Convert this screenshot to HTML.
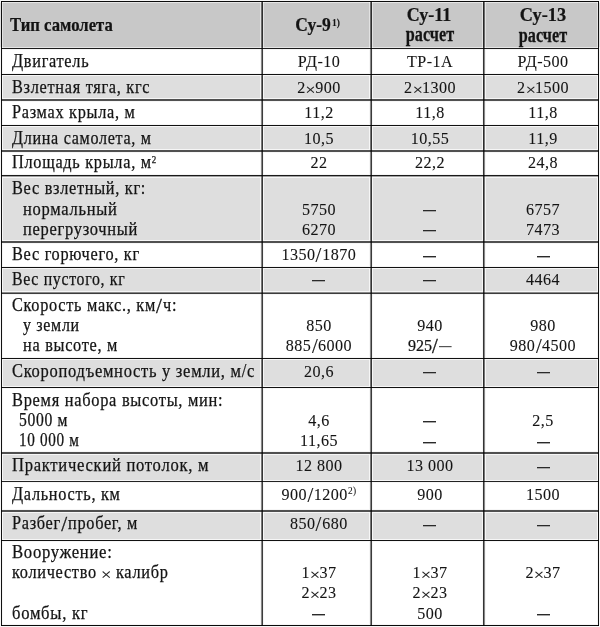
<!DOCTYPE html>
<html><head><meta charset="utf-8"><style>
html,body{margin:0;padding:0;background:#fff;}
body{width:600px;height:627px;position:relative;overflow:hidden;font-family:"Liberation Serif",serif;color:#141414;}
.r{position:absolute;}
.m{mix-blend-mode:multiply;}
.t{position:absolute;line-height:0;white-space:nowrap;-webkit-text-stroke:0.25px #141414;}
.c{width:300px;text-align:center;}
sup{font-size:0.55em;vertical-align:baseline;position:relative;top:-0.55em;line-height:0;}
sup.b{font-weight:bold;}
sup.n{font-size:0.58em;top:-0.62em;margin-left:0.3px;}
.xw{display:inline-block;position:relative;width:10.5px;height:0;}
.x{position:absolute;left:1px;bottom:0;}
.sl{display:inline-block;transform:scale(1.3,1.18);transform-origin:50% -0.35em;margin:0 1px;}
.em{display:inline-block;width:14.5px;height:1.5px;background:#2a2a2a;vertical-align:4px;margin-left:0.5px;}
</style></head><body>
<div class="r" style="left:2px;top:2px;width:596px;height:46px;background:#c8c8c8"></div>
<div class="r" style="left:2px;top:75px;width:596px;height:24px;background:#dedede"></div>
<div class="r" style="left:2px;top:126px;width:596px;height:24px;background:#dedede"></div>
<div class="r" style="left:2px;top:177px;width:596px;height:64px;background:#dedede"></div>
<div class="r" style="left:2px;top:268px;width:596px;height:24px;background:#dedede"></div>
<div class="r" style="left:2px;top:359px;width:596px;height:28px;background:#dedede"></div>
<div class="r" style="left:2px;top:454px;width:596px;height:27px;background:#dedede"></div>
<div class="r" style="left:2px;top:512px;width:596px;height:28px;background:#dedede"></div>
<div class="r" style="left:0px;top:0px;width:600px;height:1px;background:#f6f6f6"></div>
<div class="r" style="left:0px;top:2px;width:600px;height:1px;background:#e6e6e6"></div>
<div class="r" style="left:0px;top:47px;width:600px;height:1px;background:#e6e6e6"></div>
<div class="r" style="left:0px;top:49px;width:600px;height:1px;background:#f6f6f6"></div>
<div class="r" style="left:0px;top:73px;width:600px;height:1px;background:#f6f6f6"></div>
<div class="r" style="left:0px;top:75px;width:600px;height:1px;background:#f6f6f6"></div>
<div class="r" style="left:0px;top:98px;width:600px;height:1px;background:#f6f6f6"></div>
<div class="r" style="left:0px;top:101px;width:600px;height:1px;background:#f6f6f6"></div>
<div class="r" style="left:0px;top:124px;width:600px;height:1px;background:#f6f6f6"></div>
<div class="r" style="left:0px;top:126px;width:600px;height:1px;background:#f6f6f6"></div>
<div class="r" style="left:0px;top:149px;width:600px;height:1px;background:#f6f6f6"></div>
<div class="r" style="left:0px;top:152px;width:600px;height:1px;background:#f6f6f6"></div>
<div class="r" style="left:0px;top:174px;width:600px;height:1px;background:#f6f6f6"></div>
<div class="r" style="left:0px;top:177px;width:600px;height:1px;background:#f6f6f6"></div>
<div class="r" style="left:0px;top:240px;width:600px;height:1px;background:#f6f6f6"></div>
<div class="r" style="left:0px;top:243px;width:600px;height:1px;background:#f6f6f6"></div>
<div class="r" style="left:0px;top:266px;width:600px;height:1px;background:#f6f6f6"></div>
<div class="r" style="left:0px;top:268px;width:600px;height:1px;background:#f6f6f6"></div>
<div class="r" style="left:0px;top:291px;width:600px;height:1px;background:#f6f6f6"></div>
<div class="r" style="left:0px;top:294px;width:600px;height:1px;background:#f6f6f6"></div>
<div class="r" style="left:0px;top:357px;width:600px;height:1px;background:#f6f6f6"></div>
<div class="r" style="left:0px;top:359px;width:600px;height:1px;background:#f6f6f6"></div>
<div class="r" style="left:0px;top:386px;width:600px;height:1px;background:#f6f6f6"></div>
<div class="r" style="left:0px;top:388px;width:600px;height:1px;background:#f6f6f6"></div>
<div class="r" style="left:0px;top:451px;width:600px;height:1px;background:#f6f6f6"></div>
<div class="r" style="left:0px;top:454px;width:600px;height:1px;background:#f6f6f6"></div>
<div class="r" style="left:0px;top:480px;width:600px;height:1px;background:#f6f6f6"></div>
<div class="r" style="left:0px;top:482px;width:600px;height:1px;background:#f6f6f6"></div>
<div class="r" style="left:0px;top:509px;width:600px;height:1px;background:#f6f6f6"></div>
<div class="r" style="left:0px;top:512px;width:600px;height:1px;background:#f6f6f6"></div>
<div class="r" style="left:0px;top:539px;width:600px;height:1px;background:#f6f6f6"></div>
<div class="r" style="left:0px;top:541px;width:600px;height:1px;background:#f6f6f6"></div>
<div class="r" style="left:0px;top:624px;width:600px;height:1px;background:#f6f6f6"></div>
<div class="r" style="left:0px;top:626px;width:600px;height:1px;background:#f6f6f6"></div>
<div class="r" style="left:0px;top:0px;width:1px;height:627px;background:#f6f6f6"></div>
<div class="r" style="left:2px;top:0px;width:1px;height:627px;background:#f6f6f6"></div>
<div class="r" style="left:0px;top:3px;width:1px;height:44px;background:#e2e2e2"></div>
<div class="r" style="left:2px;top:3px;width:1px;height:44px;background:#e2e2e2"></div>
<div class="r" style="left:260px;top:0px;width:1px;height:627px;background:#f6f6f6"></div>
<div class="r" style="left:263px;top:0px;width:1px;height:627px;background:#f6f6f6"></div>
<div class="r" style="left:260px;top:3px;width:1px;height:44px;background:#e2e2e2"></div>
<div class="r" style="left:263px;top:3px;width:1px;height:44px;background:#e2e2e2"></div>
<div class="r" style="left:369px;top:0px;width:1px;height:627px;background:#f6f6f6"></div>
<div class="r" style="left:372px;top:0px;width:1px;height:627px;background:#f6f6f6"></div>
<div class="r" style="left:369px;top:3px;width:1px;height:44px;background:#e2e2e2"></div>
<div class="r" style="left:372px;top:3px;width:1px;height:44px;background:#e2e2e2"></div>
<div class="r" style="left:482px;top:0px;width:1px;height:627px;background:#f6f6f6"></div>
<div class="r" style="left:485px;top:0px;width:1px;height:627px;background:#f6f6f6"></div>
<div class="r" style="left:482px;top:3px;width:1px;height:44px;background:#e2e2e2"></div>
<div class="r" style="left:485px;top:3px;width:1px;height:44px;background:#e2e2e2"></div>
<div class="r" style="left:597px;top:0px;width:1px;height:627px;background:#f6f6f6"></div>
<div class="r" style="left:599px;top:0px;width:1px;height:627px;background:#f6f6f6"></div>
<div class="r" style="left:597px;top:3px;width:1px;height:44px;background:#e2e2e2"></div>
<div class="r" style="left:599px;top:3px;width:1px;height:44px;background:#e2e2e2"></div>
<div class="r" style="left:1px;top:1px;width:598px;height:1px;background:#0c0c0c"></div>
<div class="r" style="left:1px;top:48px;width:598px;height:1px;background:#1c1c1c"></div>
<div class="r" style="left:1px;top:74px;width:598px;height:1px;background:#111"></div>
<div class="r" style="left:1px;top:99px;width:598px;height:1px;background:#505050"></div>
<div class="r" style="left:1px;top:100px;width:598px;height:1px;background:#505050"></div>
<div class="r" style="left:1px;top:125px;width:598px;height:1px;background:#111"></div>
<div class="r" style="left:1px;top:150px;width:598px;height:1px;background:#505050"></div>
<div class="r" style="left:1px;top:151px;width:598px;height:1px;background:#505050"></div>
<div class="r" style="left:1px;top:175px;width:598px;height:1px;background:#1a1a1a"></div>
<div class="r" style="left:1px;top:176px;width:598px;height:1px;background:#a0a0a0"></div>
<div class="r" style="left:1px;top:241px;width:598px;height:1px;background:#505050"></div>
<div class="r" style="left:1px;top:242px;width:598px;height:1px;background:#505050"></div>
<div class="r" style="left:1px;top:267px;width:598px;height:1px;background:#111"></div>
<div class="r" style="left:1px;top:292px;width:598px;height:1px;background:#888"></div>
<div class="r" style="left:1px;top:293px;width:598px;height:1px;background:#3c3c3c"></div>
<div class="r" style="left:1px;top:358px;width:598px;height:1px;background:#111"></div>
<div class="r" style="left:1px;top:387px;width:598px;height:1px;background:#111"></div>
<div class="r" style="left:1px;top:452px;width:598px;height:1px;background:#505050"></div>
<div class="r" style="left:1px;top:453px;width:598px;height:1px;background:#505050"></div>
<div class="r" style="left:1px;top:481px;width:598px;height:1px;background:#222"></div>
<div class="r" style="left:1px;top:510px;width:598px;height:1px;background:#505050"></div>
<div class="r" style="left:1px;top:511px;width:598px;height:1px;background:#505050"></div>
<div class="r" style="left:1px;top:540px;width:598px;height:1px;background:#111"></div>
<div class="r" style="left:1px;top:625px;width:598px;height:1px;background:#0a0a0a"></div>
<div class="r m" style="left:1px;top:1px;width:1px;height:625px;background:#111"></div>
<div class="r m" style="left:261px;top:1px;width:1px;height:625px;background:#888"></div>
<div class="r m" style="left:262px;top:1px;width:1px;height:625px;background:#3c3c3c"></div>
<div class="r m" style="left:370px;top:1px;width:1px;height:625px;background:#888"></div>
<div class="r m" style="left:371px;top:1px;width:1px;height:625px;background:#3a3a3a"></div>
<div class="r m" style="left:483px;top:1px;width:1px;height:625px;background:#333"></div>
<div class="r m" style="left:484px;top:1px;width:1px;height:625px;background:#888"></div>
<div class="r m" style="left:598px;top:1px;width:1px;height:625px;background:#111"></div>
<div class="t" style="left:10.30px;top:24.45px;font-size:20px;font-weight:bold;transform:scale(0.834,0.95);transform-origin:0 6.75px;">Тип самолета</div>
<div class="t c" style="left:163.20px;top:23.85px;font-size:20px;font-weight:bold;transform:scale(0.875,0.95);transform-origin:150px 6.75px;">Су-9</div>
<div class="t c" style="left:186.00px;top:22.99px;font-size:9.5px;font-weight:bold;transform:scale(1.0,1.0);transform-origin:150px 3.21px;-webkit-text-stroke:0.1px">1)</div>
<div class="t c" style="left:278.50px;top:14.05px;font-size:20px;font-weight:bold;transform:scale(0.9,0.91);transform-origin:150px 6.75px;">Су-11</div>
<div class="t c" style="left:279.75px;top:34.45px;font-size:20px;font-weight:bold;transform:scale(0.81,1.02);transform-origin:150px 6.75px;">расчет</div>
<div class="t c" style="left:393.10px;top:14.25px;font-size:20px;font-weight:bold;transform:scale(0.915,0.91);transform-origin:150px 6.75px;">Су-13</div>
<div class="t c" style="left:393.30px;top:34.65px;font-size:20px;font-weight:bold;transform:scale(0.81,1.02);transform-origin:150px 6.75px;">расчет</div>
<div class="t" style="left:11.60px;top:60.66px;font-size:17.9px;font-weight:normal;transform:scale(0.91,1.0);transform-origin:0 6.04px;letter-spacing:0.78px">Двигатель</div>
<div class="t c" style="left:168.50px;top:60.66px;font-size:17.9px;font-weight:normal;transform:scale(0.9,0.96);transform-origin:150px 6.04px;letter-spacing:0.5px;-webkit-text-stroke:0.1px #141414">РД-10</div>
<div class="t c" style="left:279.60px;top:60.66px;font-size:17.9px;font-weight:normal;transform:scale(0.9,0.96);transform-origin:150px 6.04px;letter-spacing:0.5px;-webkit-text-stroke:0.1px #141414">ТР-1А</div>
<div class="t c" style="left:393.40px;top:60.66px;font-size:17.9px;font-weight:normal;transform:scale(0.9,0.96);transform-origin:150px 6.04px;letter-spacing:0.5px;-webkit-text-stroke:0.1px #141414">РД-500</div>
<div class="t" style="left:11.60px;top:86.56px;font-size:17.9px;font-weight:normal;transform:scale(0.91,1.0);transform-origin:0 6.04px;letter-spacing:0.78px">Взлетная тяга, кгс</div>
<div class="t c" style="left:168.50px;top:86.56px;font-size:17.9px;font-weight:normal;transform:scale(0.9,0.96);transform-origin:150px 6.04px;letter-spacing:0.5px;-webkit-text-stroke:0.1px #141414">2<span class="xw"><svg class="x" width="9" height="7.2" viewBox="0 0 9 7.2"><path d="M0.6 0.5L8.4 6.7M8.4 0.5L0.6 6.7" stroke="#2a2a2a" stroke-width="1.05" fill="none"/></svg></span>900</div>
<div class="t c" style="left:279.60px;top:86.56px;font-size:17.9px;font-weight:normal;transform:scale(0.9,0.96);transform-origin:150px 6.04px;letter-spacing:0.5px;-webkit-text-stroke:0.1px #141414">2<span class="xw"><svg class="x" width="9" height="7.2" viewBox="0 0 9 7.2"><path d="M0.6 0.5L8.4 6.7M8.4 0.5L0.6 6.7" stroke="#2a2a2a" stroke-width="1.05" fill="none"/></svg></span>1300</div>
<div class="t c" style="left:393.40px;top:86.56px;font-size:17.9px;font-weight:normal;transform:scale(0.9,0.96);transform-origin:150px 6.04px;letter-spacing:0.5px;-webkit-text-stroke:0.1px #141414">2<span class="xw"><svg class="x" width="9" height="7.2" viewBox="0 0 9 7.2"><path d="M0.6 0.5L8.4 6.7M8.4 0.5L0.6 6.7" stroke="#2a2a2a" stroke-width="1.05" fill="none"/></svg></span>1500</div>
<div class="t" style="left:11.60px;top:112.26px;font-size:17.9px;font-weight:normal;transform:scale(0.91,1.0);transform-origin:0 6.04px;letter-spacing:0.78px">Размах крыла, м</div>
<div class="t c" style="left:168.50px;top:112.26px;font-size:17.9px;font-weight:normal;transform:scale(0.9,0.96);transform-origin:150px 6.04px;letter-spacing:0.5px;-webkit-text-stroke:0.1px #141414">11,2</div>
<div class="t c" style="left:279.60px;top:112.26px;font-size:17.9px;font-weight:normal;transform:scale(0.9,0.96);transform-origin:150px 6.04px;letter-spacing:0.5px;-webkit-text-stroke:0.1px #141414">11,8</div>
<div class="t c" style="left:393.40px;top:112.26px;font-size:17.9px;font-weight:normal;transform:scale(0.9,0.96);transform-origin:150px 6.04px;letter-spacing:0.5px;-webkit-text-stroke:0.1px #141414">11,8</div>
<div class="t" style="left:11.60px;top:137.76px;font-size:17.9px;font-weight:normal;transform:scale(0.8999900000000001,1.0);transform-origin:0 6.04px;letter-spacing:0.78px">Длина самолета, м</div>
<div class="t c" style="left:168.50px;top:137.76px;font-size:17.9px;font-weight:normal;transform:scale(0.9,0.96);transform-origin:150px 6.04px;letter-spacing:0.5px;-webkit-text-stroke:0.1px #141414">10,5</div>
<div class="t c" style="left:279.60px;top:137.76px;font-size:17.9px;font-weight:normal;transform:scale(0.9,0.96);transform-origin:150px 6.04px;letter-spacing:0.5px;-webkit-text-stroke:0.1px #141414">10,55</div>
<div class="t c" style="left:393.40px;top:137.76px;font-size:17.9px;font-weight:normal;transform:scale(0.9,0.96);transform-origin:150px 6.04px;letter-spacing:0.5px;-webkit-text-stroke:0.1px #141414">11,9</div>
<div class="t" style="left:11.60px;top:162.36px;font-size:17.9px;font-weight:normal;transform:scale(0.91,1.0);transform-origin:0 6.04px;letter-spacing:0.78px">Площадь крыла, м<sup>2</sup></div>
<div class="t c" style="left:168.50px;top:162.36px;font-size:17.9px;font-weight:normal;transform:scale(0.9,0.96);transform-origin:150px 6.04px;letter-spacing:0.5px;-webkit-text-stroke:0.1px #141414">22</div>
<div class="t c" style="left:279.60px;top:162.36px;font-size:17.9px;font-weight:normal;transform:scale(0.9,0.96);transform-origin:150px 6.04px;letter-spacing:0.5px;-webkit-text-stroke:0.1px #141414">22,2</div>
<div class="t c" style="left:393.40px;top:162.36px;font-size:17.9px;font-weight:normal;transform:scale(0.9,0.96);transform-origin:150px 6.04px;letter-spacing:0.5px;-webkit-text-stroke:0.1px #141414">24,8</div>
<div class="t" style="left:11.60px;top:188.16px;font-size:17.9px;font-weight:normal;transform:scale(0.91,1.0);transform-origin:0 6.04px;letter-spacing:0.78px">Вес взлетный, кг:</div>
<div class="t" style="left:23.00px;top:208.96px;font-size:17.9px;font-weight:normal;transform:scale(0.9218299999999999,1.0);transform-origin:0 6.04px;letter-spacing:0.78px">нормальный</div>
<div class="t" style="left:23.00px;top:228.76px;font-size:17.9px;font-weight:normal;transform:scale(0.92001,1.0);transform-origin:0 6.04px;letter-spacing:0.78px">перегрузочный</div>
<div class="t c" style="left:168.50px;top:208.96px;font-size:17.9px;font-weight:normal;transform:scale(0.9,0.96);transform-origin:150px 6.04px;letter-spacing:0.5px;-webkit-text-stroke:0.1px #141414">5750</div>
<div class="t c" style="left:168.50px;top:228.76px;font-size:17.9px;font-weight:normal;transform:scale(0.9,0.96);transform-origin:150px 6.04px;letter-spacing:0.5px;-webkit-text-stroke:0.1px #141414">6270</div>
<div class="r" style="left:423px;top:210px;width:13px;height:1px;background:#2a2a2a"></div>
<div class="r" style="left:423px;top:211px;width:13px;height:1px;background:#a8a8a8"></div>
<div class="r" style="left:423px;top:230px;width:13px;height:1px;background:#2a2a2a"></div>
<div class="r" style="left:423px;top:231px;width:13px;height:1px;background:#a8a8a8"></div>
<div class="t c" style="left:393.40px;top:208.96px;font-size:17.9px;font-weight:normal;transform:scale(0.9,0.96);transform-origin:150px 6.04px;letter-spacing:0.5px;-webkit-text-stroke:0.1px #141414">6757</div>
<div class="t c" style="left:393.40px;top:228.76px;font-size:17.9px;font-weight:normal;transform:scale(0.9,0.96);transform-origin:150px 6.04px;letter-spacing:0.5px;-webkit-text-stroke:0.1px #141414">7473</div>
<div class="t" style="left:11.60px;top:254.46px;font-size:17.9px;font-weight:normal;transform:scale(0.91,1.0);transform-origin:0 6.04px;letter-spacing:0.78px">Вес горючего, кг</div>
<div class="t c" style="left:168.50px;top:254.46px;font-size:17.9px;font-weight:normal;transform:scale(0.9,0.96);transform-origin:150px 6.04px;letter-spacing:0.5px;-webkit-text-stroke:0.1px #141414">1350<span class="sl">/</span>1870</div>
<div class="r" style="left:423px;top:256px;width:13px;height:1px;background:#2a2a2a"></div>
<div class="r" style="left:423px;top:257px;width:13px;height:1px;background:#a8a8a8"></div>
<div class="r" style="left:537px;top:256px;width:13px;height:1px;background:#2a2a2a"></div>
<div class="r" style="left:537px;top:257px;width:13px;height:1px;background:#a8a8a8"></div>
<div class="t" style="left:11.60px;top:278.96px;font-size:17.9px;font-weight:normal;transform:scale(0.88452,1.0);transform-origin:0 6.04px;letter-spacing:0.78px">Вес пустого, кг</div>
<div class="r" style="left:312px;top:280px;width:13px;height:1px;background:#2a2a2a"></div>
<div class="r" style="left:312px;top:281px;width:13px;height:1px;background:#a8a8a8"></div>
<div class="r" style="left:423px;top:280px;width:13px;height:1px;background:#2a2a2a"></div>
<div class="r" style="left:423px;top:281px;width:13px;height:1px;background:#a8a8a8"></div>
<div class="t c" style="left:393.40px;top:278.96px;font-size:17.9px;font-weight:normal;transform:scale(0.9,0.96);transform-origin:150px 6.04px;letter-spacing:0.5px;-webkit-text-stroke:0.1px #141414">4464</div>
<div class="t" style="left:11.60px;top:305.26px;font-size:17.9px;font-weight:normal;transform:scale(0.91,1.0);transform-origin:0 6.04px;letter-spacing:0.78px">Скорость макс., км<span class="sl">/</span>ч:</div>
<div class="t" style="left:23.00px;top:325.26px;font-size:17.9px;font-weight:normal;transform:scale(0.89089,1.0);transform-origin:0 6.04px;letter-spacing:0.78px">у земли</div>
<div class="t" style="left:23.00px;top:345.06px;font-size:17.9px;font-weight:normal;transform:scale(0.91,1.0);transform-origin:0 6.04px;letter-spacing:0.78px">на высоте, м</div>
<div class="t c" style="left:168.50px;top:325.26px;font-size:17.9px;font-weight:normal;transform:scale(0.9,0.96);transform-origin:150px 6.04px;letter-spacing:0.5px;-webkit-text-stroke:0.1px #141414">850</div>
<div class="t c" style="left:168.50px;top:345.06px;font-size:17.9px;font-weight:normal;transform:scale(0.9,0.96);transform-origin:150px 6.04px;letter-spacing:0.5px;-webkit-text-stroke:0.1px #141414">885<span class="sl">/</span>6000</div>
<div class="t c" style="left:279.60px;top:325.26px;font-size:17.9px;font-weight:normal;transform:scale(0.9,0.96);transform-origin:150px 6.04px;letter-spacing:0.5px;-webkit-text-stroke:0.1px #141414">940</div>
<div class="t c" style="left:279.60px;top:345.06px;font-size:17.9px;font-weight:normal;transform:scale(0.9,0.96);transform-origin:150px 6.04px;">925<span class="sl">/</span><span class="em"></span></div>
<div class="t c" style="left:393.40px;top:325.26px;font-size:17.9px;font-weight:normal;transform:scale(0.9,0.96);transform-origin:150px 6.04px;letter-spacing:0.5px;-webkit-text-stroke:0.1px #141414">980</div>
<div class="t c" style="left:393.40px;top:345.06px;font-size:17.9px;font-weight:normal;transform:scale(0.9,0.96);transform-origin:150px 6.04px;letter-spacing:0.5px;-webkit-text-stroke:0.1px #141414">980<span class="sl">/</span>4500</div>
<div class="t" style="left:11.60px;top:370.66px;font-size:17.9px;font-weight:normal;transform:scale(0.9218299999999999,1.0);transform-origin:0 6.04px;letter-spacing:0.78px">Скороподъемность у земли, м/с</div>
<div class="t c" style="left:168.50px;top:370.66px;font-size:17.9px;font-weight:normal;transform:scale(0.9,0.96);transform-origin:150px 6.04px;letter-spacing:0.5px;-webkit-text-stroke:0.1px #141414">20,6</div>
<div class="r" style="left:423px;top:372px;width:13px;height:1px;background:#2a2a2a"></div>
<div class="r" style="left:423px;top:373px;width:13px;height:1px;background:#a8a8a8"></div>
<div class="r" style="left:537px;top:372px;width:13px;height:1px;background:#2a2a2a"></div>
<div class="r" style="left:537px;top:373px;width:13px;height:1px;background:#a8a8a8"></div>
<div class="t" style="left:11.60px;top:399.96px;font-size:17.9px;font-weight:normal;transform:scale(0.9163699999999999,1.0);transform-origin:0 6.04px;letter-spacing:0.78px">Время набора высоты, мин:</div>
<div class="t" style="left:19.00px;top:419.76px;font-size:17.9px;font-weight:normal;transform:scale(0.8736,1.0);transform-origin:0 6.04px;letter-spacing:0.78px">5000 м</div>
<div class="t" style="left:19.00px;top:440.26px;font-size:17.9px;font-weight:normal;transform:scale(0.8490300000000001,1.0);transform-origin:0 6.04px;letter-spacing:0.78px">10 000 м</div>
<div class="t c" style="left:168.50px;top:419.76px;font-size:17.9px;font-weight:normal;transform:scale(0.9,0.96);transform-origin:150px 6.04px;letter-spacing:0.5px;-webkit-text-stroke:0.1px #141414">4,6</div>
<div class="t c" style="left:168.50px;top:440.26px;font-size:17.9px;font-weight:normal;transform:scale(0.9,0.96);transform-origin:150px 6.04px;letter-spacing:0.5px;-webkit-text-stroke:0.1px #141414">11,65</div>
<div class="r" style="left:423px;top:421px;width:13px;height:1px;background:#2a2a2a"></div>
<div class="r" style="left:423px;top:422px;width:13px;height:1px;background:#a8a8a8"></div>
<div class="r" style="left:423px;top:442px;width:13px;height:1px;background:#2a2a2a"></div>
<div class="r" style="left:423px;top:443px;width:13px;height:1px;background:#a8a8a8"></div>
<div class="t c" style="left:393.40px;top:419.76px;font-size:17.9px;font-weight:normal;transform:scale(0.9,0.96);transform-origin:150px 6.04px;letter-spacing:0.5px;-webkit-text-stroke:0.1px #141414">2,5</div>
<div class="r" style="left:537px;top:442px;width:13px;height:1px;background:#2a2a2a"></div>
<div class="r" style="left:537px;top:443px;width:13px;height:1px;background:#a8a8a8"></div>
<div class="t" style="left:11.60px;top:465.26px;font-size:17.9px;font-weight:normal;transform:scale(0.92729,1.0);transform-origin:0 6.04px;letter-spacing:0.78px">Практический потолок, м</div>
<div class="t c" style="left:168.50px;top:465.26px;font-size:17.9px;font-weight:normal;transform:scale(0.9,0.96);transform-origin:150px 6.04px;letter-spacing:0.5px;-webkit-text-stroke:0.1px #141414">12 800</div>
<div class="t c" style="left:279.60px;top:465.26px;font-size:17.9px;font-weight:normal;transform:scale(0.9,0.96);transform-origin:150px 6.04px;letter-spacing:0.5px;-webkit-text-stroke:0.1px #141414">13 000</div>
<div class="r" style="left:537px;top:467px;width:13px;height:1px;background:#2a2a2a"></div>
<div class="r" style="left:537px;top:468px;width:13px;height:1px;background:#a8a8a8"></div>
<div class="t" style="left:11.60px;top:493.66px;font-size:17.9px;font-weight:normal;transform:scale(0.91,1.0);transform-origin:0 6.04px;letter-spacing:0.78px">Дальность, км</div>
<div class="t c" style="left:168.50px;top:493.66px;font-size:17.9px;font-weight:normal;transform:scale(0.9,0.96);transform-origin:150px 6.04px;letter-spacing:0.5px;-webkit-text-stroke:0.1px #141414">900<span class="sl">/</span>1200<sup class="n">2)</sup></div>
<div class="t c" style="left:279.60px;top:493.66px;font-size:17.9px;font-weight:normal;transform:scale(0.9,0.96);transform-origin:150px 6.04px;letter-spacing:0.5px;-webkit-text-stroke:0.1px #141414">900</div>
<div class="t c" style="left:393.40px;top:493.66px;font-size:17.9px;font-weight:normal;transform:scale(0.9,0.96);transform-origin:150px 6.04px;letter-spacing:0.5px;-webkit-text-stroke:0.1px #141414">1500</div>
<div class="t" style="left:11.60px;top:523.16px;font-size:17.9px;font-weight:normal;transform:scale(0.91,1.0);transform-origin:0 6.04px;letter-spacing:0.78px">Разбег<span class="sl">/</span>пробег, м</div>
<div class="t c" style="left:168.50px;top:523.16px;font-size:17.9px;font-weight:normal;transform:scale(0.9,0.96);transform-origin:150px 6.04px;letter-spacing:0.5px;-webkit-text-stroke:0.1px #141414">850<span class="sl">/</span>680</div>
<div class="r" style="left:423px;top:525px;width:13px;height:1px;background:#2a2a2a"></div>
<div class="r" style="left:423px;top:526px;width:13px;height:1px;background:#a8a8a8"></div>
<div class="r" style="left:537px;top:525px;width:13px;height:1px;background:#2a2a2a"></div>
<div class="r" style="left:537px;top:526px;width:13px;height:1px;background:#a8a8a8"></div>
<div class="t" style="left:11.60px;top:552.46px;font-size:17.9px;font-weight:normal;transform:scale(0.93184,1.0);transform-origin:0 6.04px;letter-spacing:0.78px">Вооружение:</div>
<div class="t" style="left:11.60px;top:572.46px;font-size:17.9px;font-weight:normal;transform:scale(0.91,1.0);transform-origin:0 6.04px;letter-spacing:0.78px">количество <span class="xw"><svg class="x" width="9" height="7.2" viewBox="0 0 9 7.2"><path d="M0.6 0.5L8.4 6.7M8.4 0.5L0.6 6.7" stroke="#2a2a2a" stroke-width="1.05" fill="none"/></svg></span> калибр</div>
<div class="t" style="left:11.60px;top:612.96px;font-size:17.9px;font-weight:normal;transform:scale(0.9282,1.0);transform-origin:0 6.04px;letter-spacing:0.78px">бомбы, кг</div>
<div class="t c" style="left:168.50px;top:572.46px;font-size:17.9px;font-weight:normal;transform:scale(0.9,0.96);transform-origin:150px 6.04px;letter-spacing:0.5px;-webkit-text-stroke:0.1px #141414">1<span class="xw"><svg class="x" width="9" height="7.2" viewBox="0 0 9 7.2"><path d="M0.6 0.5L8.4 6.7M8.4 0.5L0.6 6.7" stroke="#2a2a2a" stroke-width="1.05" fill="none"/></svg></span>37</div>
<div class="t c" style="left:168.50px;top:592.46px;font-size:17.9px;font-weight:normal;transform:scale(0.9,0.96);transform-origin:150px 6.04px;letter-spacing:0.5px;-webkit-text-stroke:0.1px #141414">2<span class="xw"><svg class="x" width="9" height="7.2" viewBox="0 0 9 7.2"><path d="M0.6 0.5L8.4 6.7M8.4 0.5L0.6 6.7" stroke="#2a2a2a" stroke-width="1.05" fill="none"/></svg></span>23</div>
<div class="r" style="left:312px;top:614px;width:13px;height:1px;background:#2a2a2a"></div>
<div class="r" style="left:312px;top:615px;width:13px;height:1px;background:#a8a8a8"></div>
<div class="t c" style="left:279.60px;top:572.46px;font-size:17.9px;font-weight:normal;transform:scale(0.9,0.96);transform-origin:150px 6.04px;letter-spacing:0.5px;-webkit-text-stroke:0.1px #141414">1<span class="xw"><svg class="x" width="9" height="7.2" viewBox="0 0 9 7.2"><path d="M0.6 0.5L8.4 6.7M8.4 0.5L0.6 6.7" stroke="#2a2a2a" stroke-width="1.05" fill="none"/></svg></span>37</div>
<div class="t c" style="left:279.60px;top:592.46px;font-size:17.9px;font-weight:normal;transform:scale(0.9,0.96);transform-origin:150px 6.04px;letter-spacing:0.5px;-webkit-text-stroke:0.1px #141414">2<span class="xw"><svg class="x" width="9" height="7.2" viewBox="0 0 9 7.2"><path d="M0.6 0.5L8.4 6.7M8.4 0.5L0.6 6.7" stroke="#2a2a2a" stroke-width="1.05" fill="none"/></svg></span>23</div>
<div class="t c" style="left:279.60px;top:612.96px;font-size:17.9px;font-weight:normal;transform:scale(0.9,0.96);transform-origin:150px 6.04px;letter-spacing:0.5px;-webkit-text-stroke:0.1px #141414">500</div>
<div class="t c" style="left:393.40px;top:572.46px;font-size:17.9px;font-weight:normal;transform:scale(0.9,0.96);transform-origin:150px 6.04px;letter-spacing:0.5px;-webkit-text-stroke:0.1px #141414">2<span class="xw"><svg class="x" width="9" height="7.2" viewBox="0 0 9 7.2"><path d="M0.6 0.5L8.4 6.7M8.4 0.5L0.6 6.7" stroke="#2a2a2a" stroke-width="1.05" fill="none"/></svg></span>37</div>
<div class="r" style="left:537px;top:614px;width:13px;height:1px;background:#2a2a2a"></div>
<div class="r" style="left:537px;top:615px;width:13px;height:1px;background:#a8a8a8"></div>
</body></html>
